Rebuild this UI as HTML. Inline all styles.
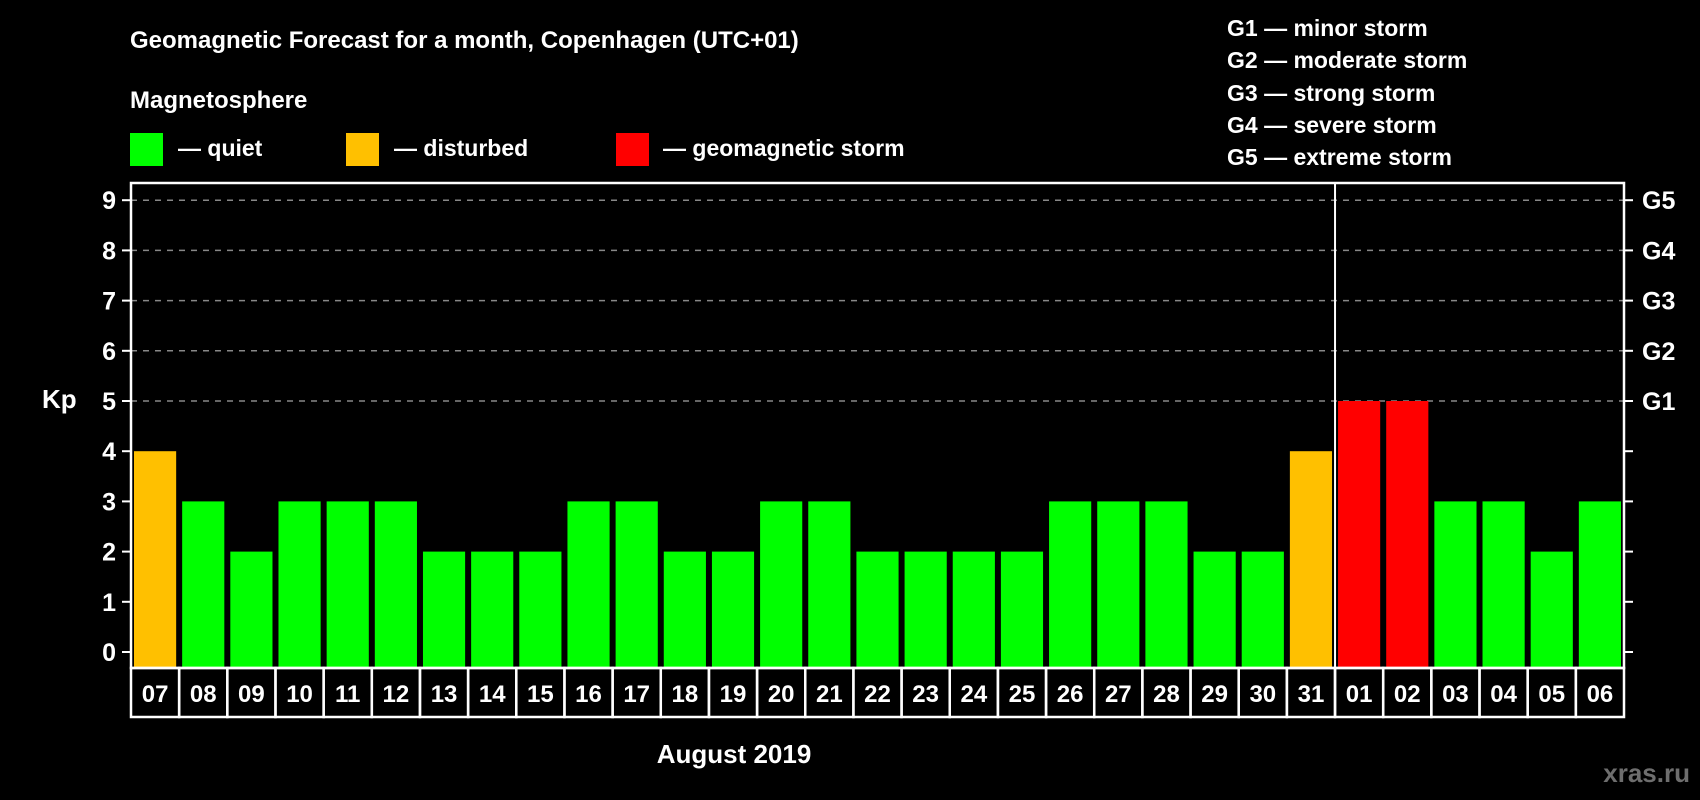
<!DOCTYPE html>
<html><head><meta charset="utf-8"><style>
html,body{margin:0;padding:0;background:#000;width:1700px;height:800px;overflow:hidden}
svg text{font-family:"Liberation Sans",sans-serif;font-weight:bold;fill:#fff}
</style></head><body>
<svg id="chart" width="1700" height="800" viewBox="0 0 1700 800">
<text x="130" y="48" font-size="24">Geomagnetic Forecast for a month, Copenhagen (UTC+01)</text>
<text x="130" y="108" font-size="24">Magnetosphere</text>
<rect x="130" y="133" width="33" height="33" fill="#00ff00"/>
<text x="178" y="156" font-size="23">— quiet</text>
<rect x="346" y="133" width="33" height="33" fill="#ffc000"/>
<text x="394" y="156" font-size="23">— disturbed</text>
<rect x="616" y="133" width="33" height="33" fill="#ff0000"/>
<text x="663" y="156" font-size="23">— geomagnetic storm</text>
<g font-size="23">
<text x="1227" y="36">G1 — minor storm</text>
<text x="1227" y="68">G2 — moderate storm</text>
<text x="1227" y="101">G3 — strong storm</text>
<text x="1227" y="133">G4 — severe storm</text>
<text x="1227" y="165">G5 — extreme storm</text>
</g>
<g id="grid"></g><g id="bars"></g><g id="axes"></g>
<text x="42" y="408" font-size="26">Kp</text>
<text x="734" y="763" font-size="26" text-anchor="middle">August 2019</text>
<text x="1690" y="782" font-size="26" text-anchor="end" style="fill:#6e6e6e">xras.ru</text>
</svg>
<script>
const days=["07","08","09","10","11","12","13","14","15","16","17","18","19","20","21","22","23","24","25","26","27","28","29","30","31","01","02","03","04","05","06"];
const kp=[4,3,2,3,3,3,2,2,2,3,3,2,2,3,3,2,2,2,2,3,3,3,2,2,4,5,5,3,3,2,3];
const yTicks=[0,1,2,3,4,5,6,7,8,9];
const gLabels=["","","","","","G1","G2","G3","G4","G5"];
const NS="http://www.w3.org/2000/svg";
const L=131,R=1624,T=183,B=668,Y0=652,U=50.2;
const slot=(R-L)/days.length;
const y=v=>Y0-v*U, x=i=>L+i*slot;
function mk(tag,attrs,parent){const e=document.createElementNS(NS,tag);for(const k in attrs)e.setAttribute(k,attrs[k]);parent.appendChild(e);return e;}
const grid=document.getElementById('grid'),bars=document.getElementById('bars'),axes=document.getElementById('axes');
yTicks.forEach((v,i)=>{
 if(v>=5){const g=mk('line',{x1:L,x2:R,y1:y(v),y2:y(v),stroke:'#888','stroke-width':1.5,'stroke-dasharray':'6,6'},grid);
 
 }
 const t1=mk('line',{x1:L-9,x2:L,y1:y(v),y2:y(v),stroke:'#fff','stroke-width':2},axes);
 
 
 const t2=mk('line',{x1:R,x2:R+9,y1:y(v),y2:y(v),stroke:'#fff','stroke-width':2},axes);
 
 
 const lb=mk('text',{x:L-15,y:y(v)+9,'font-size':25,'text-anchor':'end'},axes);lb.textContent=v;
 
 
 if(gLabels[i]){const g2=mk('text',{x:R+18,y:y(v)+9,'font-size':25},axes);g2.textContent=gLabels[i];
 
 }
});
kp.forEach((v,i)=>{
 const col=v>=5?'#ff0000':(v>=4?'#ffc000':'#00ff00');
 const b=mk('rect',{x:x(i)+3,y:y(v),width:slot-6,height:B-y(v),fill:col},bars);
 
 
 const bx=mk('rect',{x:x(i),y:B,width:slot,height:49,fill:'none',stroke:'#fff','stroke-width':2.5},axes);
 
 
 const t=mk('text',{x:x(i)+slot/2,y:B+34,'font-size':24,'text-anchor':'middle'},axes);t.textContent=days[i];
 
 
});
const fr=mk('rect',{x:L,y:T,width:R-L,height:B-T,fill:'none',stroke:'#fff','stroke-width':2.5},axes);


const sep=mk('line',{x1:x(25),x2:x(25),y1:T,y2:B,stroke:'#fff','stroke-width':2},axes);


</script>
</body></html>
